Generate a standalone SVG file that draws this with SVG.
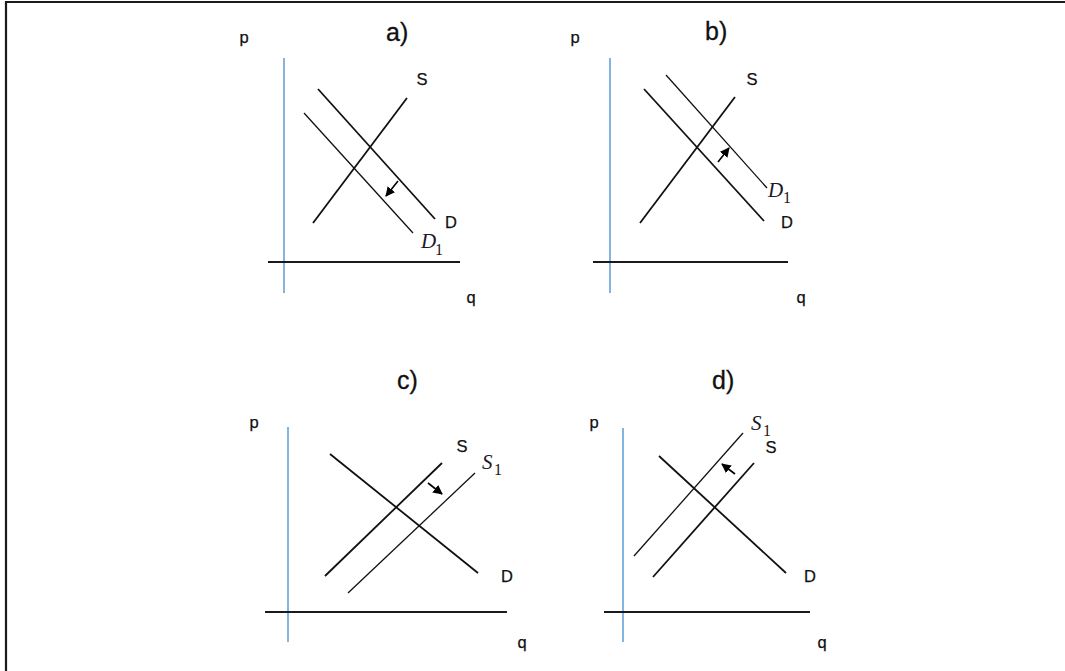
<svg xmlns="http://www.w3.org/2000/svg" width="1065" height="671" viewBox="0 0 1065 671">
<defs>
<marker id="ah" viewBox="0 0 10 10" refX="9" refY="5" markerWidth="6" markerHeight="6" orient="auto" markerUnits="strokeWidth">
<path d="M0,0 L10,5 L0,10 z" fill="#000"/>
</marker>
</defs>
<style>
.frame{fill:none;stroke:#1a1a1a;stroke-width:2.2}
.yax{stroke:#5b9bd5;stroke-width:1.5;fill:none}
.xax{stroke:#1a1a1a;stroke-width:2;fill:none}
.cv{stroke:#111;stroke-width:1.8;fill:none}
.cv1{stroke:#111;stroke-width:1.3;fill:none}
.arr{stroke:#000;stroke-width:1.6;fill:none;marker-end:url(#ah)}
.lb{font-family:"Liberation Sans",Arial,sans-serif;font-size:16.5px;fill:#111;text-anchor:middle;stroke:#111;stroke-width:0.25}
.hd{font-family:"Liberation Sans",Arial,sans-serif;font-size:25px;fill:#111;stroke:#111;stroke-width:0.3}
.mi{font-family:"Liberation Serif","Times New Roman",serif;font-style:italic;font-size:21px;fill:#1a1a2a}
.sub{font-family:"Liberation Serif","Times New Roman",serif;font-size:16px;fill:#2a1010}
</style>
<rect width="1065" height="671" fill="#fff"/>
<path class="frame" d="M6,671 V2 H1065"/>

<g id="panel-a">
<text class="hd" x="386" y="41">a)</text>
<text class="lb" x="244" y="43">p</text>
<text class="lb" x="471" y="303">q</text>
<line class="yax" x1="284" y1="58" x2="284" y2="293"/>
<line class="xax" x1="268" y1="262" x2="460" y2="262"/>
</g>
<g id="a-S"><line class="cv" x1="313" y1="223" x2="407" y2="98"/><text class="lb" x="422" y="85">S</text></g>
<g id="a-D"><line class="cv" x1="318" y1="89" x2="435" y2="219"/><text class="lb" x="451" y="228">D</text></g>
<g id="a-D1"><line class="cv1" x1="304" y1="113" x2="413" y2="233"/><text class="mi" x="421" y="248">D</text><text class="sub" x="435" y="255">1</text></g>

<g id="panel-b">
<text class="hd" x="705" y="40">b)</text>
<text class="lb" x="575" y="43">p</text>
<text class="lb" x="801" y="303">q</text>
<line class="yax" x1="610" y1="58" x2="610" y2="293"/>
<line class="xax" x1="593" y1="262" x2="788" y2="262"/>
</g>
<g id="b-S"><line class="cv" x1="640" y1="223" x2="735" y2="97"/><text class="lb" x="752" y="85">S</text></g>
<g id="b-D"><line class="cv" x1="644" y1="89" x2="764" y2="221"/><text class="lb" x="787" y="228">D</text></g>
<g id="b-D1"><line class="cv1" x1="666" y1="75" x2="767" y2="188"/><text class="mi" x="768" y="197">D</text><text class="sub" x="783" y="203">1</text></g>

<g id="panel-c">
<text class="hd" x="397" y="389">c)</text>
<text class="lb" x="254" y="428">p</text>
<text class="lb" x="522" y="648">q</text>
<line class="yax" x1="288" y1="427" x2="288" y2="642"/>
<line class="xax" x1="265" y1="612" x2="507" y2="612"/>
</g>
<g id="c-D"><line class="cv" x1="330" y1="454" x2="478" y2="573"/><text class="lb" x="507" y="582">D</text></g>
<g id="c-S"><line class="cv" x1="325" y1="576" x2="442" y2="463"/><text class="lb" x="462" y="452">S</text></g>
<g id="c-S1"><line class="cv1" x1="348" y1="593" x2="475" y2="473"/><text class="mi" x="482" y="469">S</text><text class="sub" x="494" y="475">1</text></g>

<g id="panel-d">
<text class="hd" x="712" y="389">d)</text>
<text class="lb" x="594" y="428">p</text>
<text class="lb" x="822" y="648">q</text>
<line class="yax" x1="623" y1="428" x2="623" y2="642"/>
<line class="xax" x1="604" y1="612" x2="810" y2="612"/>
</g>
<g id="d-D"><line class="cv" x1="659" y1="456" x2="786" y2="573"/><text class="lb" x="810" y="582">D</text></g>
<g id="d-S"><line class="cv" x1="653" y1="577" x2="754" y2="463"/><text class="lb" x="771" y="453">S</text></g>
<g id="d-S1"><line class="cv1" x1="634" y1="556" x2="743" y2="433"/><text class="mi" x="751" y="430">S</text><text class="sub" x="763" y="436">1</text></g>

<g id="connectors">
<line class="arr" x1="398" y1="181" x2="386" y2="196"/>
<line class="arr" x1="718" y1="162" x2="729" y2="148"/>
<line class="arr" x1="428" y1="483" x2="442" y2="494"/>
<line class="arr" x1="735" y1="474" x2="722" y2="464"/>
</g>
</svg>
